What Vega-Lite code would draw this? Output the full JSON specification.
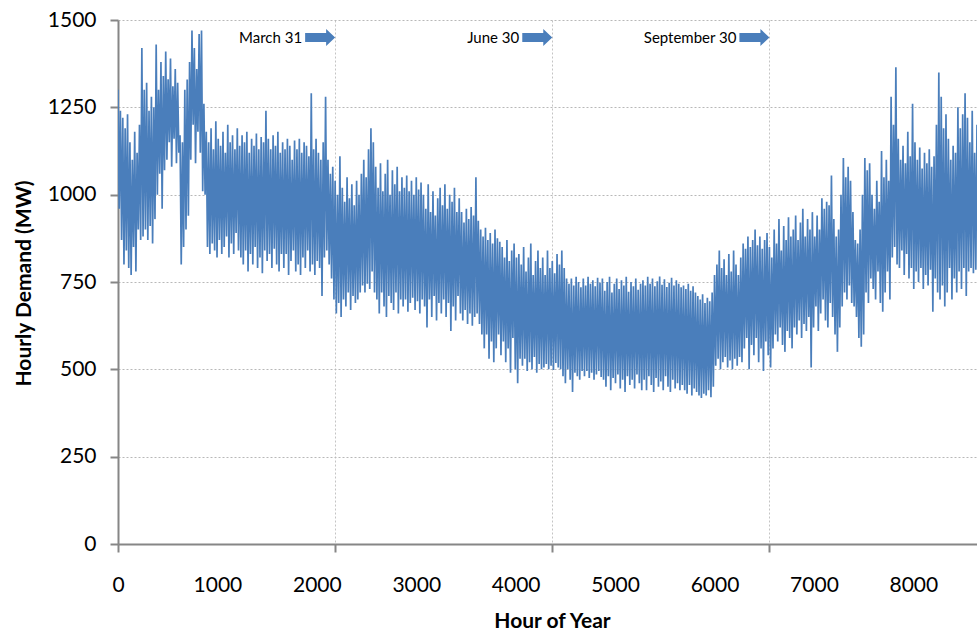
{
  "$schema": "https://vega.github.io/schema/vega-lite/v6.json",
  "width": 859,
  "height": 524,
  "autosize": "none",
  "padding": {"left": 118, "top": 20, "right": 0, "bottom": 88},
  "background": "white",
  "config": {"view": {"stroke": null}, "font": "Lato"},
  "layer": [
    {
      "data": {"values": [
{"h":0,"d":1300},{"h":12,"d":960},{"h":24,"d":1240},{"h":36,"d":870},{"h":48,"d":1220},{"h":60,"d":800},{"h":72,"d":1190},{"h":84,"d":840},{"h":96,"d":1230},{"h":108,"d":790},
{"h":120,"d":1150},{"h":132,"d":770},{"h":144,"d":1100},{"h":156,"d":850},{"h":168,"d":1180},{"h":180,"d":780},{"h":192,"d":1120},{"h":204,"d":900},{"h":216,"d":1200},{"h":228,"d":870},
{"h":240,"d":1420},{"h":252,"d":880},{"h":264,"d":1300},{"h":276,"d":900},{"h":288,"d":1320},{"h":300,"d":870},{"h":312,"d":1240},{"h":324,"d":910},{"h":336,"d":1280},{"h":348,"d":860},
{"h":360,"d":1250},{"h":372,"d":930},{"h":384,"d":1430},{"h":396,"d":1000},{"h":408,"d":1300},{"h":420,"d":1060},{"h":432,"d":1380},{"h":444,"d":960},{"h":456,"d":1340},{"h":468,"d":1070},
{"h":480,"d":1410},{"h":492,"d":1100},{"h":504,"d":1330},{"h":516,"d":1150},{"h":528,"d":1390},{"h":540,"d":1080},{"h":552,"d":1310},{"h":564,"d":1160},{"h":576,"d":1360},{"h":588,"d":1090},
{"h":600,"d":1320},{"h":612,"d":1120},{"h":624,"d":1170},{"h":636,"d":800},{"h":648,"d":1150},{"h":660,"d":850},{"h":672,"d":1300},{"h":684,"d":900},{"h":696,"d":1330},{"h":708,"d":940},
{"h":720,"d":1380},{"h":732,"d":1100},{"h":744,"d":1470},{"h":756,"d":1200},{"h":768,"d":1420},{"h":780,"d":1090},{"h":792,"d":1360},{"h":804,"d":1180},{"h":816,"d":1460},{"h":828,"d":1120},
{"h":840,"d":1470},{"h":852,"d":1010},{"h":864,"d":1260},{"h":876,"d":1000},{"h":888,"d":1180},{"h":900,"d":850},{"h":912,"d":1150},{"h":924,"d":830},{"h":936,"d":1190},{"h":948,"d":860},
{"h":960,"d":1130},{"h":972,"d":840},{"h":984,"d":1210},{"h":996,"d":820},{"h":1008,"d":1160},{"h":1020,"d":870},{"h":1032,"d":1140},{"h":1044,"d":830},{"h":1056,"d":1180},{"h":1068,"d":850},
{"h":1080,"d":1120},{"h":1092,"d":880},{"h":1104,"d":1200},{"h":1116,"d":820},{"h":1128,"d":1150},{"h":1140,"d":860},{"h":1152,"d":1170},{"h":1164,"d":830},{"h":1176,"d":1130},{"h":1188,"d":890},
{"h":1200,"d":1190},{"h":1212,"d":840},{"h":1224,"d":1140},{"h":1236,"d":820},{"h":1248,"d":1170},{"h":1260,"d":800},{"h":1272,"d":1150},{"h":1284,"d":840},{"h":1296,"d":1180},{"h":1308,"d":780},
{"h":1320,"d":1120},{"h":1332,"d":830},{"h":1344,"d":1160},{"h":1356,"d":800},{"h":1368,"d":1140},{"h":1380,"d":850},{"h":1392,"d":1175},{"h":1404,"d":790},{"h":1416,"d":1130},{"h":1428,"d":820},
{"h":1440,"d":1165},{"h":1452,"d":775},{"h":1464,"d":1150},{"h":1476,"d":840},{"h":1488,"d":1240},{"h":1500,"d":810},{"h":1512,"d":1160},{"h":1524,"d":830},{"h":1536,"d":1130},{"h":1548,"d":790},
{"h":1560,"d":1170},{"h":1572,"d":845},{"h":1584,"d":1140},{"h":1596,"d":800},{"h":1608,"d":1180},{"h":1620,"d":780},{"h":1632,"d":1120},{"h":1644,"d":830},{"h":1656,"d":1150},{"h":1668,"d":790},
{"h":1680,"d":1130},{"h":1692,"d":830},{"h":1704,"d":1160},{"h":1716,"d":770},{"h":1728,"d":1140},{"h":1740,"d":810},{"h":1752,"d":1100},{"h":1764,"d":840},{"h":1776,"d":1155},{"h":1788,"d":780},
{"h":1800,"d":1130},{"h":1812,"d":800},{"h":1824,"d":1160},{"h":1836,"d":770},{"h":1848,"d":1120},{"h":1860,"d":820},{"h":1872,"d":1150},{"h":1884,"d":790},{"h":1896,"d":1140},{"h":1908,"d":840},
{"h":1920,"d":1110},{"h":1932,"d":780},{"h":1944,"d":1290},{"h":1956,"d":800},{"h":1968,"d":1130},{"h":1980,"d":770},{"h":1992,"d":1160},{"h":2004,"d":810},{"h":2016,"d":1120},{"h":2028,"d":790},
{"h":2040,"d":1100},{"h":2052,"d":710},{"h":2064,"d":1150},{"h":2076,"d":820},{"h":2088,"d":1280},{"h":2100,"d":840},{"h":2112,"d":1100},{"h":2124,"d":800},{"h":2136,"d":1060},{"h":2148,"d":760},
{"h":2160,"d":1080},{"h":2172,"d":700},{"h":2184,"d":1040},{"h":2196,"d":660},{"h":2208,"d":1000},{"h":2220,"d":690},{"h":2232,"d":1110},{"h":2244,"d":650},{"h":2256,"d":1020},{"h":2268,"d":700},
{"h":2280,"d":980},{"h":2292,"d":680},{"h":2304,"d":1050},{"h":2316,"d":720},{"h":2328,"d":990},{"h":2340,"d":670},{"h":2352,"d":1030},{"h":2364,"d":710},{"h":2376,"d":970},{"h":2388,"d":690},
{"h":2400,"d":1040},{"h":2412,"d":700},{"h":2424,"d":1000},{"h":2436,"d":720},{"h":2448,"d":1060},{"h":2460,"d":740},{"h":2472,"d":1100},{"h":2484,"d":720},{"h":2496,"d":1050},{"h":2508,"d":745},
{"h":2520,"d":1130},{"h":2532,"d":730},{"h":2544,"d":1190},{"h":2556,"d":780},{"h":2568,"d":1150},{"h":2580,"d":720},{"h":2592,"d":1080},{"h":2604,"d":700},{"h":2616,"d":1020},{"h":2628,"d":660},
{"h":2640,"d":1090},{"h":2652,"d":720},{"h":2664,"d":1010},{"h":2676,"d":680},{"h":2688,"d":1060},{"h":2700,"d":650},{"h":2712,"d":1100},{"h":2724,"d":710},{"h":2736,"d":1000},{"h":2748,"d":690},
{"h":2760,"d":1070},{"h":2772,"d":670},{"h":2784,"d":1030},{"h":2796,"d":720},{"h":2808,"d":1080},{"h":2820,"d":660},{"h":2832,"d":1010},{"h":2844,"d":700},{"h":2856,"d":1050},{"h":2868,"d":680},
{"h":2880,"d":1020},{"h":2892,"d":700},{"h":2904,"d":1055},{"h":2916,"d":665},{"h":2928,"d":1010},{"h":2940,"d":690},{"h":2952,"d":1040},{"h":2964,"d":705},{"h":2976,"d":1000},{"h":2988,"d":670},
{"h":3000,"d":1050},{"h":3012,"d":695},{"h":3024,"d":1015},{"h":3036,"d":660},{"h":3048,"d":1035},{"h":3060,"d":700},{"h":3072,"d":1000},{"h":3084,"d":680},{"h":3096,"d":960},{"h":3108,"d":620},
{"h":3120,"d":1030},{"h":3132,"d":700},{"h":3144,"d":950},{"h":3156,"d":650},{"h":3168,"d":1010},{"h":3180,"d":710},{"h":3192,"d":940},{"h":3204,"d":640},{"h":3216,"d":990},{"h":3228,"d":690},
{"h":3240,"d":1020},{"h":3252,"d":660},{"h":3264,"d":970},{"h":3276,"d":700},{"h":3288,"d":1030},{"h":3300,"d":650},{"h":3312,"d":960},{"h":3324,"d":690},{"h":3336,"d":1000},{"h":3348,"d":610},
{"h":3360,"d":980},{"h":3372,"d":680},{"h":3384,"d":1020},{"h":3396,"d":640},{"h":3408,"d":950},{"h":3420,"d":710},{"h":3432,"d":990},{"h":3444,"d":660},{"h":3456,"d":950},{"h":3468,"d":640},
{"h":3480,"d":920},{"h":3492,"d":670},{"h":3504,"d":960},{"h":3516,"d":630},{"h":3528,"d":930},{"h":3540,"d":660},{"h":3552,"d":965},{"h":3564,"d":625},{"h":3576,"d":940},{"h":3588,"d":650},
{"h":3600,"d":1050},{"h":3612,"d":660},{"h":3624,"d":925},{"h":3636,"d":630},{"h":3648,"d":900},{"h":3660,"d":600},{"h":3672,"d":880},{"h":3684,"d":560},{"h":3696,"d":905},{"h":3708,"d":600},
{"h":3720,"d":870},{"h":3732,"d":530},{"h":3744,"d":890},{"h":3756,"d":580},{"h":3768,"d":860},{"h":3780,"d":520},{"h":3792,"d":900},{"h":3804,"d":560},{"h":3816,"d":875},{"h":3828,"d":600},
{"h":3840,"d":865},{"h":3852,"d":540},{"h":3864,"d":850},{"h":3876,"d":580},{"h":3888,"d":820},{"h":3900,"d":520},{"h":3912,"d":870},{"h":3924,"d":560},{"h":3936,"d":810},{"h":3948,"d":490},
{"h":3960,"d":840},{"h":3972,"d":590},{"h":3984,"d":860},{"h":3996,"d":500},{"h":4008,"d":820},{"h":4020,"d":460},{"h":4032,"d":830},{"h":4044,"d":530},{"h":4056,"d":800},{"h":4068,"d":510},
{"h":4080,"d":850},{"h":4092,"d":530},{"h":4104,"d":780},{"h":4116,"d":495},{"h":4128,"d":820},{"h":4140,"d":520},{"h":4152,"d":860},{"h":4164,"d":500},{"h":4176,"d":770},{"h":4188,"d":535},
{"h":4200,"d":810},{"h":4212,"d":490},{"h":4224,"d":840},{"h":4236,"d":515},{"h":4248,"d":790},{"h":4260,"d":500},{"h":4272,"d":820},{"h":4284,"d":505},{"h":4296,"d":770},{"h":4308,"d":515},
{"h":4320,"d":840},{"h":4332,"d":500},{"h":4344,"d":790},{"h":4356,"d":510},{"h":4368,"d":810},{"h":4380,"d":498},{"h":4392,"d":775},{"h":4404,"d":518},{"h":4416,"d":830},{"h":4428,"d":505},
{"h":4440,"d":800},{"h":4452,"d":500},{"h":4464,"d":840},{"h":4476,"d":480},{"h":4488,"d":790},{"h":4500,"d":460},{"h":4512,"d":760},{"h":4524,"d":500},{"h":4536,"d":745},{"h":4548,"d":470},
{"h":4560,"d":760},{"h":4572,"d":435},{"h":4584,"d":740},{"h":4596,"d":490},{"h":4608,"d":765},{"h":4620,"d":480},{"h":4632,"d":750},{"h":4644,"d":470},{"h":4656,"d":735},{"h":4668,"d":495},
{"h":4680,"d":760},{"h":4692,"d":480},{"h":4704,"d":740},{"h":4716,"d":495},{"h":4728,"d":765},{"h":4740,"d":475},{"h":4752,"d":745},{"h":4764,"d":490},{"h":4776,"d":755},{"h":4788,"d":470},
{"h":4800,"d":738},{"h":4812,"d":485},{"h":4824,"d":762},{"h":4836,"d":495},{"h":4848,"d":748},{"h":4860,"d":478},{"h":4872,"d":760},{"h":4884,"d":470},{"h":4896,"d":725},{"h":4908,"d":450},
{"h":4920,"d":750},{"h":4932,"d":480},{"h":4944,"d":765},{"h":4956,"d":440},{"h":4968,"d":720},{"h":4980,"d":475},{"h":4992,"d":745},{"h":5004,"d":460},{"h":5016,"d":760},{"h":5028,"d":485},
{"h":5040,"d":730},{"h":5052,"d":445},{"h":5064,"d":755},{"h":5076,"d":470},{"h":5088,"d":740},{"h":5100,"d":435},{"h":5112,"d":765},{"h":5124,"d":480},{"h":5136,"d":722},{"h":5148,"d":455},
{"h":5160,"d":750},{"h":5172,"d":470},{"h":5184,"d":738},{"h":5196,"d":445},{"h":5208,"d":760},{"h":5220,"d":485},{"h":5232,"d":728},{"h":5244,"d":460},{"h":5256,"d":745},{"h":5268,"d":440},
{"h":5280,"d":755},{"h":5292,"d":470},{"h":5304,"d":740},{"h":5316,"d":440},{"h":5328,"d":765},{"h":5340,"d":480},{"h":5352,"d":745},{"h":5364,"d":455},{"h":5376,"d":760},{"h":5388,"d":435},
{"h":5400,"d":738},{"h":5412,"d":475},{"h":5424,"d":752},{"h":5436,"d":450},{"h":5448,"d":766},{"h":5460,"d":465},{"h":5472,"d":742},{"h":5484,"d":440},{"h":5496,"d":758},{"h":5508,"d":480},
{"h":5520,"d":736},{"h":5532,"d":450},{"h":5544,"d":748},{"h":5556,"d":435},{"h":5568,"d":762},{"h":5580,"d":470},{"h":5592,"d":740},{"h":5604,"d":445},{"h":5616,"d":755},{"h":5628,"d":460},
{"h":5640,"d":745},{"h":5652,"d":440},{"h":5664,"d":735},{"h":5676,"d":455},{"h":5688,"d":740},{"h":5700,"d":440},{"h":5712,"d":730},{"h":5724,"d":430},{"h":5736,"d":745},{"h":5748,"d":455},
{"h":5760,"d":725},{"h":5772,"d":425},{"h":5784,"d":738},{"h":5796,"d":445},{"h":5808,"d":720},{"h":5820,"d":435},{"h":5832,"d":710},{"h":5844,"d":425},{"h":5856,"d":700},{"h":5868,"d":418},
{"h":5880,"d":715},{"h":5892,"d":430},{"h":5904,"d":690},{"h":5916,"d":425},{"h":5928,"d":705},{"h":5940,"d":440},{"h":5952,"d":695},{"h":5964,"d":420},{"h":5976,"d":720},{"h":5988,"d":450},
{"h":6000,"d":770},{"h":6012,"d":510},{"h":6024,"d":800},{"h":6036,"d":530},{"h":6048,"d":840},{"h":6060,"d":500},{"h":6072,"d":790},{"h":6084,"d":520},{"h":6096,"d":815},{"h":6108,"d":535},
{"h":6120,"d":770},{"h":6132,"d":505},{"h":6144,"d":830},{"h":6156,"d":525},{"h":6168,"d":780},{"h":6180,"d":500},{"h":6192,"d":840},{"h":6204,"d":530},{"h":6216,"d":800},{"h":6228,"d":510},
{"h":6240,"d":770},{"h":6252,"d":535},{"h":6264,"d":820},{"h":6276,"d":520},{"h":6288,"d":860},{"h":6300,"d":560},{"h":6312,"d":845},{"h":6324,"d":590},{"h":6336,"d":880},{"h":6348,"d":500},
{"h":6360,"d":850},{"h":6372,"d":570},{"h":6384,"d":870},{"h":6396,"d":540},{"h":6408,"d":900},{"h":6420,"d":590},{"h":6432,"d":855},{"h":6444,"d":520},{"h":6456,"d":880},{"h":6468,"d":560},
{"h":6480,"d":845},{"h":6492,"d":495},{"h":6504,"d":870},{"h":6516,"d":580},{"h":6528,"d":890},{"h":6540,"d":540},{"h":6552,"d":850},{"h":6564,"d":505},{"h":6576,"d":820},{"h":6588,"d":560},
{"h":6600,"d":900},{"h":6612,"d":600},{"h":6624,"d":860},{"h":6636,"d":580},{"h":6648,"d":930},{"h":6660,"d":620},{"h":6672,"d":840},{"h":6684,"d":570},{"h":6696,"d":910},{"h":6708,"d":550},
{"h":6720,"d":870},{"h":6732,"d":610},{"h":6744,"d":935},{"h":6756,"d":590},{"h":6768,"d":880},{"h":6780,"d":560},{"h":6792,"d":900},{"h":6804,"d":620},{"h":6816,"d":940},{"h":6828,"d":600},
{"h":6840,"d":870},{"h":6852,"d":640},{"h":6864,"d":920},{"h":6876,"d":590},{"h":6888,"d":960},{"h":6900,"d":630},{"h":6912,"d":880},{"h":6924,"d":610},{"h":6936,"d":930},{"h":6948,"d":650},
{"h":6960,"d":900},{"h":6972,"d":505},{"h":6984,"d":950},{"h":6996,"d":620},{"h":7008,"d":880},{"h":7020,"d":680},{"h":7032,"d":940},{"h":7044,"d":610},{"h":7056,"d":900},{"h":7068,"d":660},
{"h":7080,"d":990},{"h":7092,"d":700},{"h":7104,"d":960},{"h":7116,"d":640},{"h":7128,"d":980},{"h":7140,"d":620},{"h":7152,"d":970},{"h":7164,"d":690},{"h":7176,"d":1055},{"h":7188,"d":650},
{"h":7200,"d":930},{"h":7212,"d":600},{"h":7224,"d":880},{"h":7236,"d":550},{"h":7248,"d":900},{"h":7260,"d":620},{"h":7272,"d":1000},{"h":7284,"d":680},{"h":7296,"d":1105},{"h":7308,"d":720},
{"h":7320,"d":1050},{"h":7332,"d":700},{"h":7344,"d":1080},{"h":7356,"d":740},{"h":7368,"d":1040},{"h":7380,"d":690},{"h":7392,"d":950},{"h":7404,"d":680},{"h":7416,"d":870},{"h":7428,"d":650},
{"h":7440,"d":860},{"h":7452,"d":590},{"h":7464,"d":900},{"h":7476,"d":565},{"h":7488,"d":1000},{"h":7500,"d":600},{"h":7512,"d":1105},{"h":7524,"d":720},{"h":7536,"d":1070},{"h":7548,"d":690},
{"h":7560,"d":1090},{"h":7572,"d":760},{"h":7584,"d":1000},{"h":7596,"d":730},{"h":7608,"d":960},{"h":7620,"d":700},{"h":7632,"d":1040},{"h":7644,"d":780},{"h":7656,"d":980},{"h":7668,"d":690},
{"h":7680,"d":1125},{"h":7692,"d":665},{"h":7704,"d":1050},{"h":7716,"d":720},{"h":7728,"d":1100},{"h":7740,"d":780},{"h":7752,"d":1040},{"h":7764,"d":700},{"h":7776,"d":1280},{"h":7788,"d":820},
{"h":7800,"d":1200},{"h":7812,"d":850},{"h":7824,"d":1365},{"h":7836,"d":800},{"h":7848,"d":1160},{"h":7860,"d":790},{"h":7872,"d":1100},{"h":7884,"d":840},{"h":7896,"d":1140},{"h":7908,"d":770},
{"h":7920,"d":1090},{"h":7932,"d":830},{"h":7944,"d":1180},{"h":7956,"d":760},{"h":7968,"d":1110},{"h":7980,"d":790},{"h":7992,"d":1260},{"h":8004,"d":730},{"h":8016,"d":1150},{"h":8028,"d":780},
{"h":8040,"d":1100},{"h":8052,"d":750},{"h":8064,"d":1135},{"h":8076,"d":790},{"h":8088,"d":1075},{"h":8100,"d":730},{"h":8112,"d":1120},{"h":8124,"d":770},{"h":8136,"d":1090},{"h":8148,"d":740},
{"h":8160,"d":1130},{"h":8172,"d":785},{"h":8184,"d":1080},{"h":8196,"d":665},{"h":8208,"d":1110},{"h":8220,"d":760},{"h":8232,"d":1200},{"h":8244,"d":720},{"h":8256,"d":1350},{"h":8268,"d":700},
{"h":8280,"d":1280},{"h":8292,"d":740},{"h":8304,"d":1190},{"h":8316,"d":680},{"h":8328,"d":1230},{"h":8340,"d":720},{"h":8352,"d":1160},{"h":8364,"d":790},{"h":8376,"d":1100},{"h":8388,"d":700},
{"h":8400,"d":1140},{"h":8412,"d":760},{"h":8424,"d":1120},{"h":8436,"d":720},{"h":8448,"d":1250},{"h":8460,"d":780},{"h":8472,"d":1190},{"h":8484,"d":730},{"h":8496,"d":1230},{"h":8508,"d":790},
{"h":8520,"d":1290},{"h":8532,"d":710},{"h":8544,"d":1220},{"h":8556,"d":780},{"h":8568,"d":1150},{"h":8580,"d":790},{"h":8592,"d":1240},{"h":8604,"d":775},{"h":8616,"d":1120},{"h":8628,"d":785},
{"h":8640,"d":1200}
      ]},
      "mark": {"type": "line", "color": "#4a7ebb", "strokeWidth": 1.7, "clip": true},
      "encoding": {
        "x": {
          "field": "h", "type": "quantitative",
          "scale": {"domain": [0, 8640], "nice": false, "zero": false},
          "axis": {
            "title": "Hour of Year",
            "values": [0, 1000, 2000, 2184, 3000, 4000, 4368, 5000, 6000, 6552, 7000, 8000],
            "format": "d",
            "labelExpr": "datum.value % 1000 === 0 ? datum.label : ''",
            "labelOverlap": false, "labelBound": false, "labelFlush": false,
            "grid": true, "gridColor": "#c4c4c4", "gridDash": [2, 2], "gridWidth": 1,
            "gridOpacity": {"condition": {"test": "datum.value % 1000 !== 0", "value": 1}, "value": 0},
            "tickOpacity": {"condition": {"test": "datum.value % 1000 !== 0 || datum.value === 0", "value": 1}, "value": 0},
            "tickColor": "#868686", "tickWidth": 2, "tickSize": 8,
            "domainColor": "#868686", "domainWidth": 2,
            "labelFont": "Lato", "labelFontSize": 21, "labelColor": "#000000", "labelPadding": 22,
            "titleFont": "Lato", "titleFontSize": 21, "titleFontWeight": "bold", "titleColor": "#000000",
            "titleX": 434, "titleY": 83, "titleAlign": "center", "titleBaseline": "alphabetic"
          }
        },
        "y": {
          "field": "d", "type": "quantitative",
          "scale": {"domain": [0, 1500], "nice": false},
          "axis": {
            "title": "Hourly Demand (MW)",
            "values": [0, 250, 500, 750, 1000, 1250, 1500],
            "format": "d",
            "grid": true, "gridColor": "#b8b8b8", "gridDash": [2, 2], "gridWidth": 1,
            "tickColor": "#868686", "tickWidth": 2, "tickSize": 8,
            "domainColor": "#868686", "domainWidth": 2,
            "labelFont": "Lato", "labelFontSize": 21, "labelColor": "#000000", "labelPadding": 14,
            "titleFont": "Lato", "titleFontSize": 21, "titleFontWeight": "bold", "titleColor": "#000000",
            "titleAngle": 270, "titleAlign": "center", "titleBaseline": "alphabetic",
            "titleX": -88, "titleY": 263
          }
        }
      }
    },
    {
      "data": {"values": [
        {"h": 2184, "d": 1450, "label": "March 31"},
        {"h": 4368, "d": 1450, "label": "June 30"},
        {"h": 6552, "d": 1450, "label": "September 30"}
      ]},
      "mark": {"type": "point", "shape": "M0,0L-0.9,-0.85L-0.9,-0.45L-3,-0.45L-3,0.45L-0.9,0.45L-0.9,0.85Z", "size": 400, "filled": true, "color": "#4a7ebb", "opacity": 1, "strokeWidth": 0},
      "encoding": {
        "x": {"field": "h", "type": "quantitative", "title": "Hour of Year"},
        "y": {"field": "d", "type": "quantitative", "title": "Hourly Demand (MW)"}
      }
    },
    {
      "data": {"values": [
        {"h": 2184, "d": 1450, "label": "March 31"},
        {"h": 4368, "d": 1450, "label": "June 30"},
        {"h": 6552, "d": 1450, "label": "September 30"}
      ]},
      "mark": {"type": "text", "align": "right", "baseline": "middle", "dx": -33, "dy": 1, "font": "Lato", "fontSize": 15, "color": "#000000"},
      "encoding": {
        "x": {"field": "h", "type": "quantitative", "title": "Hour of Year"},
        "y": {"field": "d", "type": "quantitative", "title": "Hourly Demand (MW)"},
        "text": {"field": "label", "type": "nominal"}
      }
    }
  ]
}
